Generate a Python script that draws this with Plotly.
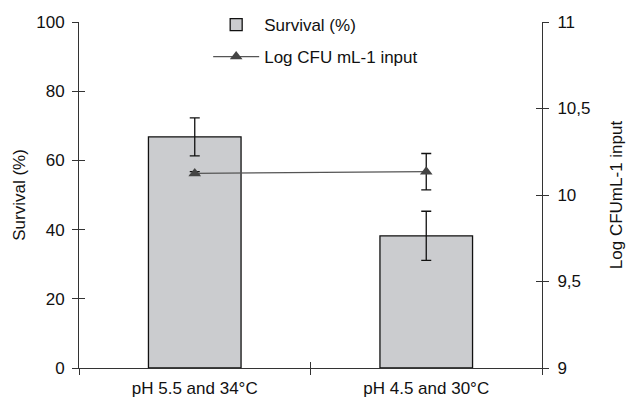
import plotly.graph_objects as go

categories = ["pH 5.5 and 34°C", "pH 4.5 and 30°C"]
survival = [66.8, 38.2]
survival_err = [5.5, 7.1]
log_cfu = [10.125, 10.135]
log_cfu_err = [0.01, 0.105]
left_ticks = [0, 20, 40, 60, 80, 100]
right_ticks = [9, 9.5, 10, 10.5, 11]
right_tick_text = ["9", "9,5", "10", "10,5", "11"]

FONT = "Liberation Sans, Arial, Helvetica, sans-serif"
AX = "#333333"
FS = 17
H, TOP, BOT = 400, 22, 32
PH = H - TOP            # plot area height (bottom margin 0, axis lifted by domain)
DOM = [BOT / PH, 1]

fig = go.Figure()
fig.add_trace(go.Bar(
    x=categories, y=survival, name="Survival (%)",
    width=0.4,
    marker=dict(color="#cbcccf", line=dict(color="#111111", width=1.3)),
    error_y=dict(type="data", array=survival_err, color="#111111", thickness=1.3, width=5),
    xaxis="x", yaxis="y", legend="legend",
))
fig.add_trace(go.Scatter(
    x=categories, y=log_cfu, name="Log CFU mL-1 input",
    mode="lines+markers",
    line=dict(color="#555555", width=1.2),
    marker=dict(symbol="triangle-up", size=11, color="#444444"),
    error_y=dict(type="data", array=log_cfu_err, color="#111111", thickness=1.3, width=5),
    xaxis="x", yaxis="y2", legend="legend2",
))
# helper traces so that the inside-tick overlay axes are drawn
fig.add_trace(go.Scatter(x=[0.5], y=[0], mode="none", showlegend=False,
                         hoverinfo="skip", xaxis="x2", yaxis="y3"))
fig.add_trace(go.Scatter(x=[0.5], y=[9], mode="none", showlegend=False,
                         hoverinfo="skip", xaxis="x2", yaxis="y4"))

tickfont = dict(family=FONT, size=FS, color="#111111")
fig.update_layout(
    width=627, height=H,
    margin=dict(l=79, r=85, t=TOP, b=0),
    plot_bgcolor="white", paper_bgcolor="white",
    font=dict(family=FONT, size=FS, color="#111111"),
    xaxis=dict(type="category", range=[-0.5, 1.5], tickson="boundaries",
               ticks="outside", ticklen=6, tickcolor=AX, tickwidth=1,
               showline=True, linecolor=AX, linewidth=1, showgrid=False,
               tickfont=tickfont, anchor="y", automargin=False, ticklabelstandoff=5),
    xaxis2=dict(overlaying="x", range=[-0.5, 1.5], tickvals=[0.5], ticks="inside",
                ticklen=6, tickcolor=AX, showticklabels=False, showline=False,
                showgrid=False, zeroline=False, anchor="y", side="bottom", automargin=False),
    yaxis=dict(domain=DOM, range=[0, 100], tickvals=left_ticks, ticks="outside", ticklen=6,
               tickcolor=AX, showline=True, linecolor=AX, linewidth=1,
               showgrid=False, zeroline=False, tickfont=tickfont, automargin=False,
               ticklabelstandoff=4,
               title=dict(text="Survival (%)", font=dict(family=FONT, size=FS), standoff=6)),
    yaxis2=dict(domain=DOM, range=[9, 11], tickvals=right_ticks, ticktext=right_tick_text,
                overlaying="y", side="right", anchor="x", ticks="outside", ticklen=6,
                tickcolor=AX, showline=True, linecolor=AX, linewidth=1,
                showgrid=False, zeroline=False, tickfont=tickfont, automargin=False,
                ticklabelstandoff=5,
                title=dict(text="Log CFUmL-1 input", font=dict(family=FONT, size=FS), standoff=20)),
    yaxis3=dict(domain=DOM, range=[0, 100], tickvals=left_ticks, overlaying="y", side="left",
                anchor="x2", ticks="inside", ticklen=6, tickcolor=AX, automargin=False,
                showticklabels=False, showline=False, showgrid=False, zeroline=False),
    yaxis4=dict(domain=DOM, range=[9, 11], tickvals=right_ticks, overlaying="y", side="right",
                anchor="x2", ticks="inside", ticklen=6, tickcolor=AX, automargin=False,
                showticklabels=False, showline=False, showgrid=False, zeroline=False),
    legend=dict(x=0.279, y=(H - 25) / PH, xanchor="left", yanchor="middle",
                bgcolor="rgba(0,0,0,0)", font=dict(family=FONT, size=FS), itemwidth=46),
    legend2=dict(x=0.279, y=(H - 57) / PH, xanchor="left", yanchor="middle",
                 bgcolor="rgba(0,0,0,0)", font=dict(family=FONT, size=FS), itemwidth=46),
    showlegend=True,
)

fig.write_html("out.html", config={"displayModeBar": False},
               post_script="document.body.style.margin='0px';")
